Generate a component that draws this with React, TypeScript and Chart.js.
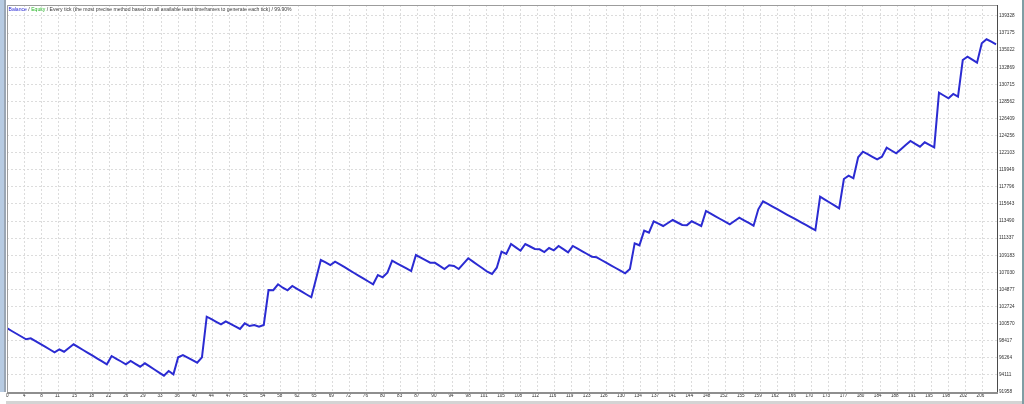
import React, { useEffect, useRef } from "react";
import { Chart, registerables } from "chart.js";

Chart.register(...registerables);

// Balance after each trade (trade index 0..208)
const balance: number[] = [
  100000, 99643, 99297, 98950, 98597, 98723, 98370, 98018, 97665, 97312,
  96960, 97337, 97035, 97501, 97967, 97602, 97249, 96884, 96531, 96166,
  95813, 95448, 96493, 96141, 95800, 95448, 95863, 95498, 95145, 95574,
  95183, 94793, 94402, 94011, 94604, 94188, 96330, 96619, 96292, 95977,
  95649, 96330, 101444, 101129, 100802, 100487, 100865, 100537, 100222, 99895,
  100613, 100273, 100399, 100184, 100399, 104808, 104790, 105526, 105098, 104770,
  105312, 104959, 104594, 104241, 103889, 106232, 108587, 108298, 107958, 108374,
  108033, 107681, 107315, 106950, 106597, 106232, 105879, 105526, 106698, 106408,
  106988, 108499, 108172, 107844, 107529, 107201, 109217, 108890, 108575, 108247,
  108230, 107844, 107453, 107920, 107831, 107453, 108122, 108802, 108386, 107958,
  107542, 107113, 106824, 107617, 109633, 109343, 110603, 110175, 109759, 110603,
  110288, 109973, 109935, 109595, 110099, 109809, 110351, 109948, 109557, 110351,
  110011, 109683, 109343, 109003, 108927, 108587, 108247, 107920, 107580, 107252,
  106912, 107453, 110691, 110440, 112279, 112027, 113463, 113173, 112871, 113249,
  113627, 113312, 112997, 112980, 113463, 113173, 112871, 114760, 114420, 114093,
  113753, 113425, 113085, 113501, 113917, 113577, 113249, 112909, 114974, 115982,
  115654, 115314, 114987, 114647, 114319, 113992, 113664, 113324, 112997, 112656,
  112329, 116562, 116197, 115831, 115466, 115101, 118792, 119208, 118880, 121526,
  122231, 121916, 121588, 121273, 121601, 122735, 122383, 122030, 122547, 123063,
  123580, 123214, 122861, 123416, 123101, 122786, 129664, 129311, 128959, 129500,
  129160, 133783, 134199, 133821, 133443, 135887, 136391, 136089, 135761,
];

const xTickLabels: number[] = [
  0, 4, 8, 11, 15, 18, 22, 26, 29, 33, 36, 40, 44, 47, 51, 54, 58, 62, 65, 69,
  72, 76, 80, 83, 87, 90, 94, 98, 101, 105, 108, 112, 116, 119, 123, 126, 130,
  134, 137, 141, 144, 148, 152, 155, 159, 162, 166, 170, 173, 177, 180, 184, 188,
  191, 195, 198, 202, 206,
];

const yTickLabels: number[] = [
  91958, 94111, 96264, 98417, 100570, 102724, 104877, 107030, 109183, 111337,
  113490, 115643, 117796, 119949, 122103, 124256, 126409, 128562, 130715, 132869,
  135022, 137175, 139328,
];

const legendParts: { text: string; color: string }[] = [
  { text: "Balance", color: "#2a2ad6" },
  { text: " / ", color: "#3a3a3a" },
  { text: "Equity", color: "#22b422" },
  {
    text: " / Every tick (the most precise method based on all available least timeframes to generate each tick) / 99.90%",
    color: "#3a3a3a",
  },
];

const Y_MIN = yTickLabels[0];
const Y_STEP = (yTickLabels[yTickLabels.length - 1] - yTickLabels[0]) / (yTickLabels.length - 1);
const Y_MAX = 140712;
const X_STEP = 3.6;
const X_MAX = 208.2;
const FONT = "'Liberation Sans', Arial, sans-serif";

const framePlugin = {
  id: "mt4frame",
  afterDatasetsDraw(chart: any) {
    const { ctx, chartArea: a } = chart;
    ctx.save();
    ctx.lineWidth = 1;
    ctx.strokeStyle = "#9c9c9c";
    ctx.beginPath();
    ctx.moveTo(a.left + 0.5, a.bottom);
    ctx.lineTo(a.left + 0.5, a.top + 0.5);
    ctx.lineTo(a.right, a.top + 0.5);
    ctx.stroke();
    ctx.strokeStyle = "#4a4a4a";
    ctx.beginPath();
    ctx.moveTo(a.right + 0.5, a.top);
    ctx.lineTo(a.right + 0.5, a.bottom + 1);
    ctx.stroke();
    ctx.strokeStyle = "#8e8e8e";
    ctx.lineWidth = 2;
    ctx.beginPath();
    ctx.moveTo(a.left, a.bottom + 1);
    ctx.lineTo(a.right + 1, a.bottom + 1);
    ctx.stroke();

    // header text
    ctx.font = `5.1px ${FONT}`;
    ctx.textBaseline = "middle";
    ctx.textAlign = "left";
    let x = a.left + 1.5;
    const y = a.top + 4.5;
    for (const p of legendParts) {
      ctx.fillStyle = p.color;
      ctx.fillText(p.text, x, y);
      x += ctx.measureText(p.text).width;
    }
    ctx.restore();
  },
};

export default function App() {
  const ref = useRef<HTMLCanvasElement | null>(null);

  useEffect(() => {
    if (!ref.current) return;
    const chart = new Chart(ref.current, {
      type: "line",
      data: {
        datasets: [
          {
            label: "Balance",
            data: balance.map((v, i) => ({ x: i, y: v })),
            borderColor: "#2b2bd2",
            borderWidth: 2,
            pointRadius: 0,
            tension: 0,
            fill: false,
          },
        ],
      },
      options: {
        animation: false,
        responsive: false,
        devicePixelRatio: 1,
        layout: { padding: { left: 7, top: 5, right: 0, bottom: 0 } },
        plugins: {
          legend: { display: false },
          tooltip: { enabled: false },
        },
        scales: {
          x: {
            type: "linear",
            min: 0,
            max: X_MAX,
            afterBuildTicks: (scale: any) => {
              scale.ticks = xTickLabels.map((_, k) => ({ value: k * X_STEP }));
            },
            afterFit: (scale: any) => {
              scale.height = 12;
            },
            grid: { color: "#dcdcdc", lineWidth: 1, drawTicks: false },
            border: { display: false, dash: [2, 2] },
            ticks: {
              autoSkip: false,
              maxRotation: 0,
              minRotation: 0,
              align: "end",
              labelOffset: 1.5,
              padding: 1,
              color: "#303030",
              font: { family: FONT, size: 4.6 },
              callback: (_v: any, i: number) => String(xTickLabels[i]),
            },
          },
          y: {
            type: "linear",
            position: "right",
            min: Y_MIN,
            max: Y_MAX,
            afterBuildTicks: (scale: any) => {
              scale.ticks = yTickLabels.map((_, k) => ({ value: Y_MIN + k * Y_STEP }));
            },
            afterFit: (scale: any) => {
              scale.width = 27;
            },
            grid: { color: "#dcdcdc", lineWidth: 1, drawTicks: false },
            border: { display: false, dash: [2, 2] },
            ticks: {
              autoSkip: false,
              padding: 2,
              color: "#303030",
              font: { family: FONT, size: 4.7 },
              callback: (_v: any, i: number) => String(yTickLabels[i]),
            },
          },
        },
      },
      plugins: [framePlugin],
    });
    return () => chart.destroy();
  }, []);

  return (
    <div
      style={{
        position: "fixed",
        left: 0,
        top: 0,
        width: 1024,
        height: 404,
        background: "#ffffff",
        overflow: "hidden",
      }}
    >
      <canvas ref={ref} width={1024} height={404} style={{ display: "block", width: 1024, height: 404 }} />
      <div style={{ position: "absolute", left: 0, top: 0, width: 4, height: 392, background: "#b7cbe2" }} />
      <div style={{ position: "absolute", left: 4, top: 0, width: 2, height: 392, background: "#9aa6b4" }} />
      <div style={{ position: "absolute", right: 0, top: 0, width: 2, height: 404, background: "#7f9ea4" }} />
      <div style={{ position: "absolute", left: 6, right: 2, top: 401, height: 3, background: "#d4d4d4" }} />
    </div>
  );
}
